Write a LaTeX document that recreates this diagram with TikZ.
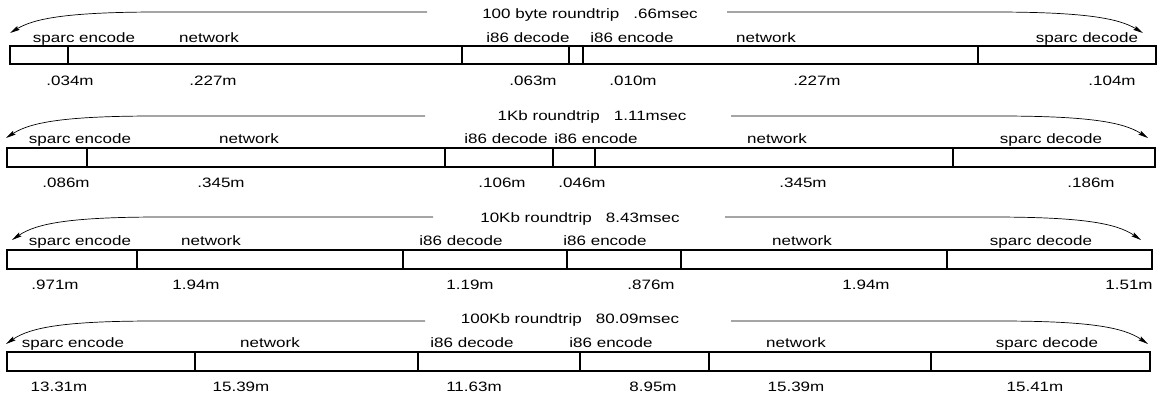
\documentclass[tikz,border=0pt]{standalone}
\usepackage{fontspec}
\setmainfont{Liberation Sans}
\newfontfamily\labfont[FakeStretch=1.25]{Liberation Sans}
\usetikzlibrary{arrows.meta}
\newcommand\myarcs[7]{%
  \coordinate (#1L) at (#3,#2); \coordinate (#1LT) at (#4,#5);
  \coordinate (#1R) at (#6,#2); \coordinate (#1RT) at (#7,#5);
  \draw[arcline] (#1L) -- (#4+150,#2) .. controls (#4+60,#2) and (#4+25,#2+6) .. (#1LT);
  \draw[arcline] (#1R) -- (#7-150,#2) .. controls (#7-60,#2) and (#7-25,#2+6) .. (#1RT);}
\newcommand\mybar[5]{% name, top, bottom, left, right
  \node[barbox, minimum width={#5-#4}, minimum height={#3-#2}, anchor=north west] (#1) at (#4,#2) {};}
\begin{document}
\begin{tikzpicture}[x=1pt,y=-1pt,
  lab/.style={font=\labfont\fontsize{13.6}{16}\selectfont, inner sep=0pt, anchor=base},
  barbox/.style={draw, line width=1.2pt, inner sep=0pt, outer sep=0pt},
  divider/.style={line width=1.2pt},
  arcline/.style={line width=0.7pt, -{Stealth[length=10pt,width=4.5pt,inset=1.5pt]}}]
\useasboundingbox (0,0) rectangle (1161,396);

% ---------- Row 1 ----------
\node[lab] (t1) at (590,18.5) {100 byte roundtrip~~~.66msec};
\myarcs{a1}{12}{427}{10}{33}{727}{1143}
\mybar{b1}{46}{64}{10}{1156}
\foreach \x [count=\i] in {68,462,569,583,978}
  \draw[divider] (\x,46) coordinate (d1t\i) -- (\x,64) coordinate (d1b\i);
\foreach \x/\t [count=\i] in {84/sparc encode,209/network,528/i86 decode,632/i86 encode,766/network,1087/sparc decode}
  \node[lab] (l1n\i) at (\x,42.5) {\t};
\foreach \x/\t [count=\i] in {70/.034m,213/.227m,533/.063m,633/.010m,817/.227m,1112/.104m}
  \node[lab] (v1n\i) at (\x,85.5) {\t};

% ---------- Row 2 ----------
\node[lab] (t2) at (592,120.5) {1Kb roundtrip~~~1.11msec};
\myarcs{a2}{116}{425}{6}{138}{731}{1148}
\mybar{b2}{148}{167}{7}{1155}
\foreach \x [count=\i] in {87,445,553,595,953}
  \draw[divider] (\x,148) coordinate (d2t\i) -- (\x,167) coordinate (d2b\i);
\foreach \x/\t [count=\i] in {80/sparc encode,249/network,506/i86 decode,596/i86 encode,777/network,1051/sparc decode}
  \node[lab] (l2n\i) at (\x,143.5) {\t};
\foreach \x/\t [count=\i] in {66/.086m,221/.345m,502/.106m,582/.046m,803/.345m,1091/.186m}
  \node[lab] (v2n\i) at (\x,187.5) {\t};

% ---------- Row 3 ----------
\node[lab] (t3) at (580,222.5) {10Kb roundtrip~~~8.43msec};
\myarcs{a3}{217}{433}{12}{240}{725}{1141}
\mybar{b3}{250}{269}{7}{1152}
\foreach \x [count=\i] in {137,403,567,681,947}
  \draw[divider] (\x,250) coordinate (d3t\i) -- (\x,269) coordinate (d3b\i);
\foreach \x/\t [count=\i] in {80/sparc encode,211/network,461/i86 decode,605/i86 encode,802/network,1041/sparc decode}
  \node[lab] (l3n\i) at (\x,245.5) {\t};
\foreach \x/\t [count=\i] in {55/.971m,196/1.94m,470/1.19m,651/.876m,866/1.94m,1129/1.51m}
  \node[lab] (v3n\i) at (\x,289.5) {\t};

% ---------- Row 4 ----------
\node[lab] (t4) at (570,323.5) {100Kb roundtrip~~~80.09msec};
\myarcs{a4}{321}{425}{6}{344}{731}{1148}
\mybar{b4}{352}{371}{7}{1150}
\foreach \x [count=\i] in {195,418,580,709,931}
  \draw[divider] (\x,352) coordinate (d4t\i) -- (\x,371) coordinate (d4b\i);
\foreach \x/\t [count=\i] in {73/sparc encode,270/network,472/i86 decode,611/i86 encode,796/network,1047/sparc decode}
  \node[lab] (l4n\i) at (\x,347.5) {\t};
\foreach \x/\t [count=\i] in {59/13.31m,241/15.39m,474/11.63m,653/8.95m,796/15.39m,1035/15.41m}
  \node[lab] (v4n\i) at (\x,391.5) {\t};
\end{tikzpicture}
\end{document}
